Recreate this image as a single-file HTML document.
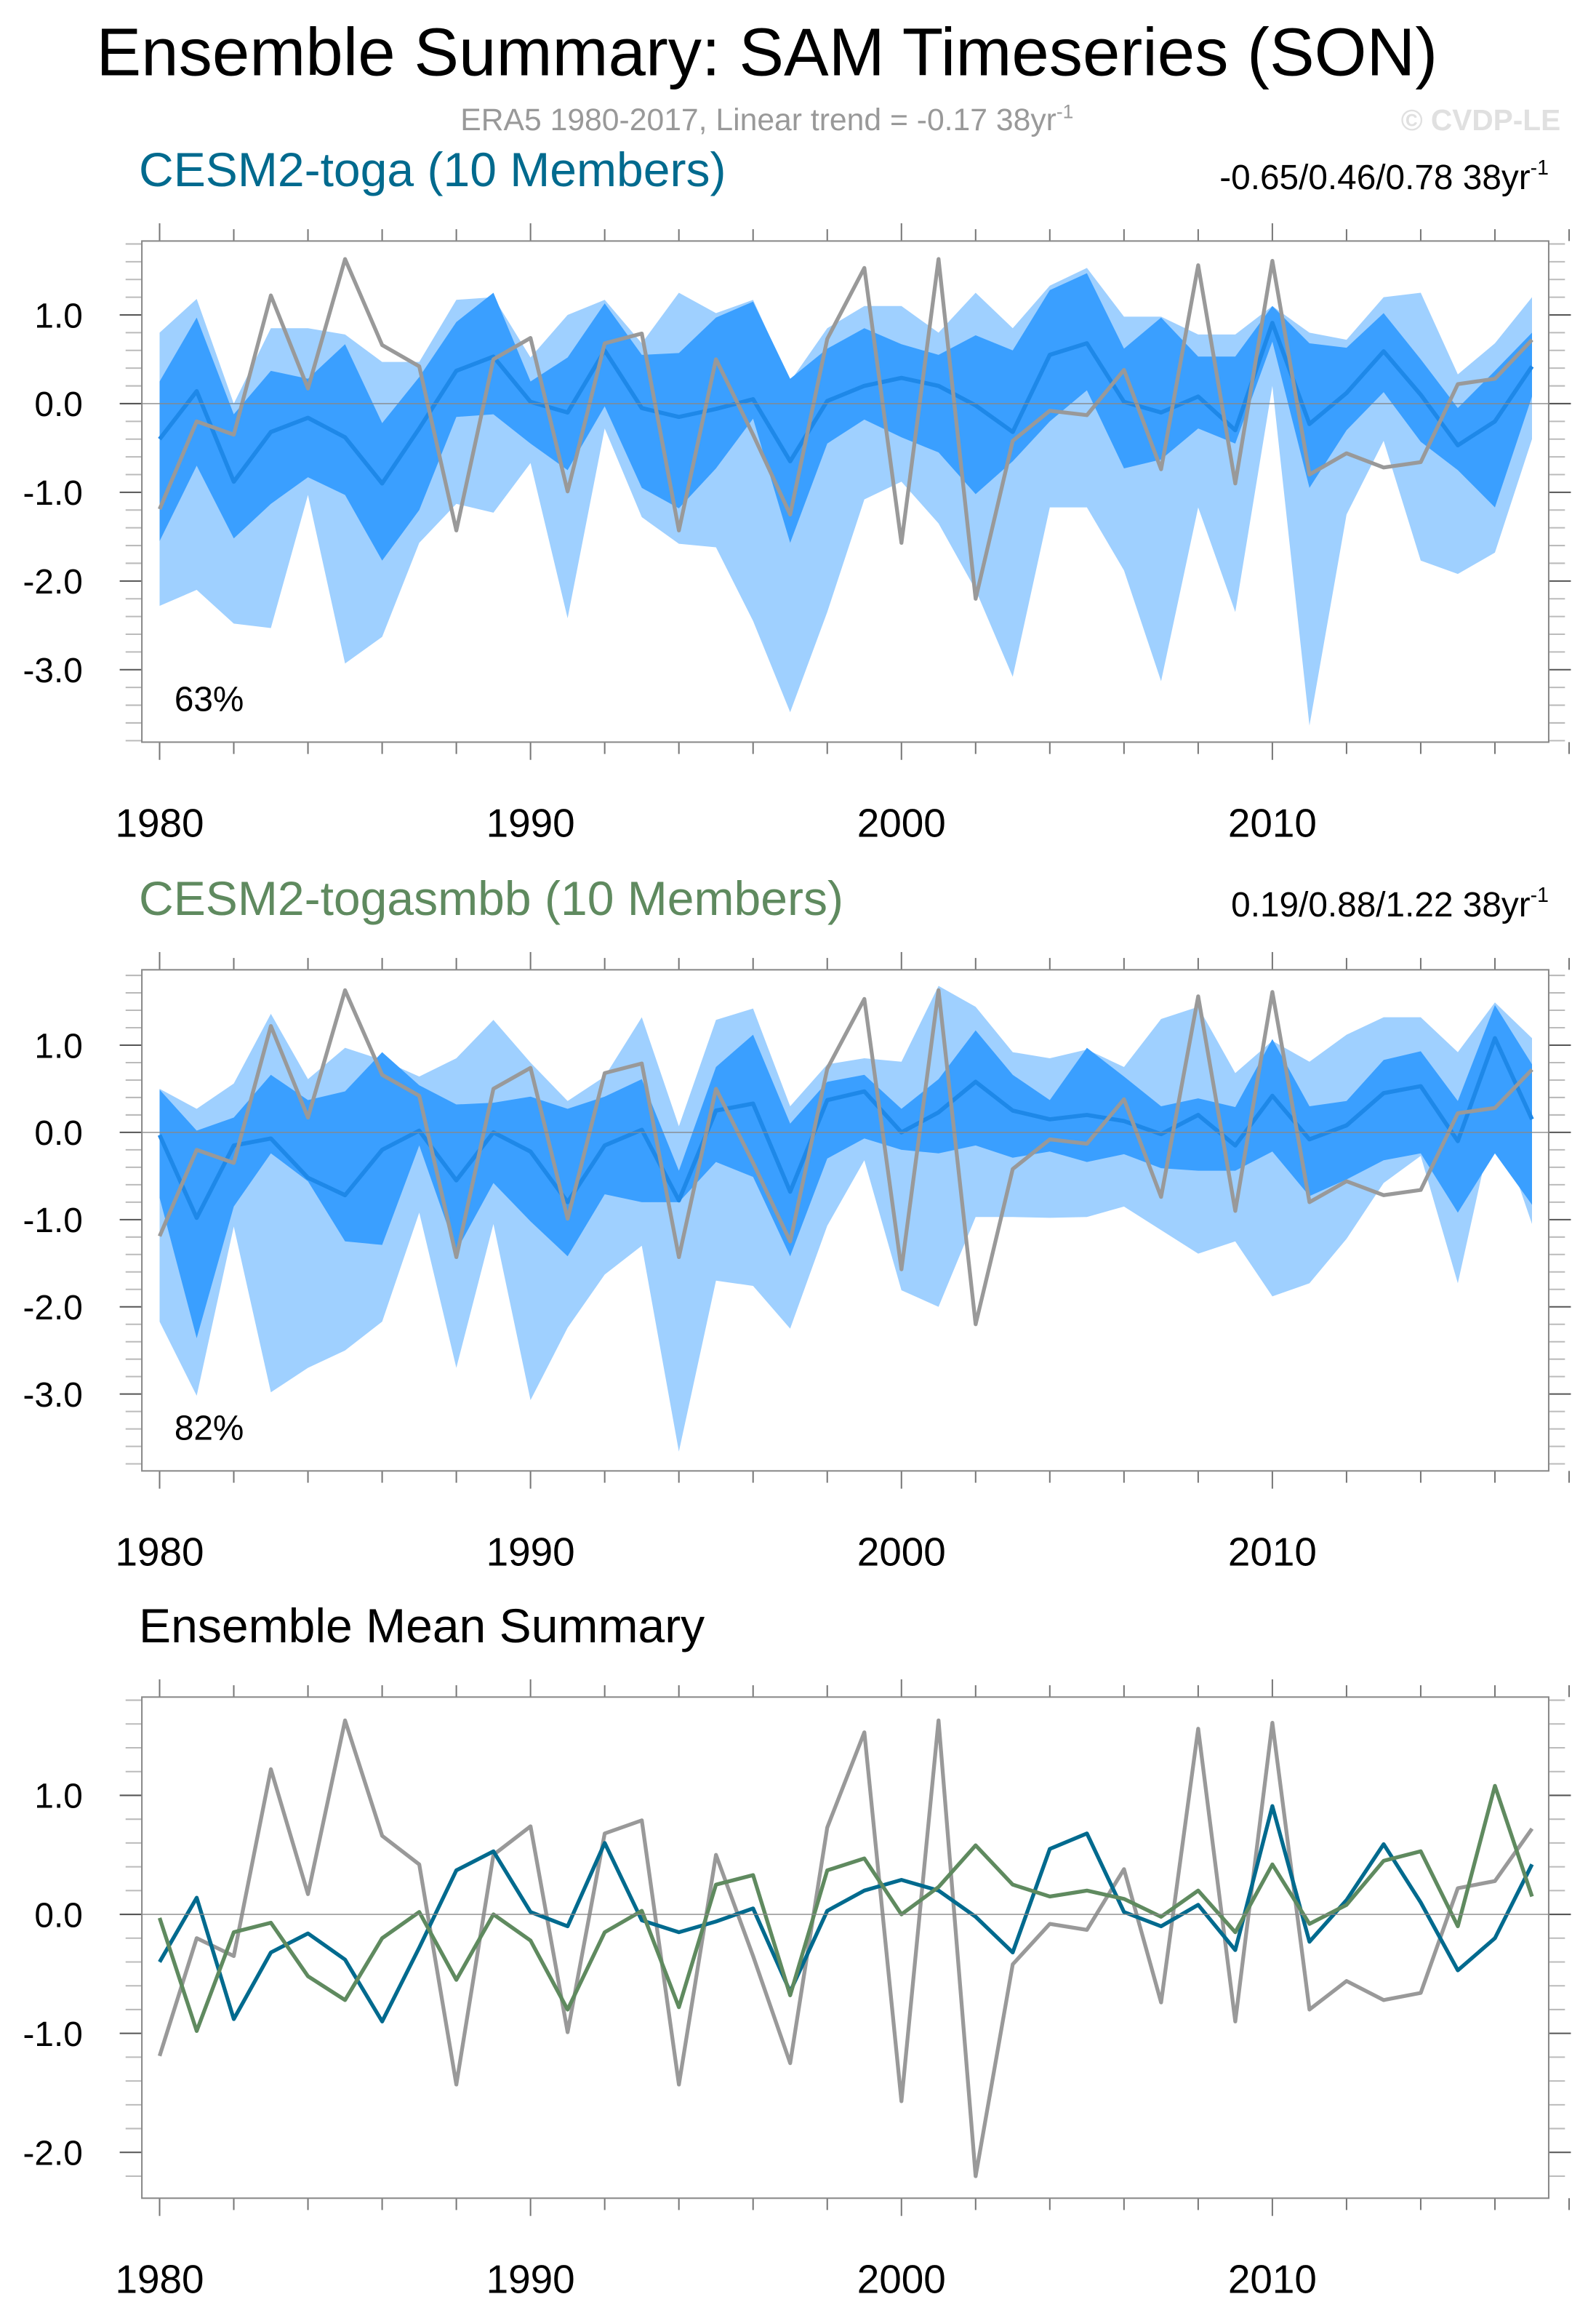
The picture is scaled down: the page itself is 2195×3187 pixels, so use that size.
<!DOCTYPE html>
<html><head><meta charset="utf-8"><style>
html,body{margin:0;padding:0;background:#fff}
svg{display:block}
text{font-family:"Liberation Sans",sans-serif}
</style></head><body>
<svg id="fig" width="2195" height="3187" viewBox="0 0 1080 1568" xmlns="http://www.w3.org/2000/svg">
<rect width="1080" height="1568" fill="#fff"/>
<text x="519" y="51" font-size="45.5" text-anchor="middle">Ensemble Summary: SAM Timeseries (SON)</text>
<text x="519" y="88" font-size="21" fill="#999" text-anchor="middle">ERA5 1980-2017, Linear trend = -0.17 38yr<tspan dy="-8" font-size="13">-1</tspan></text>
<text x="1056" y="88" font-size="20" font-weight="bold" fill="#e0e0e0" text-anchor="end">© CVDP-LE</text>
<text x="94" y="126" font-size="32.5" fill="#006a8e">CESM2-toga (10 Members)</text>
<text x="1048" y="128" font-size="23.5" text-anchor="end">-0.65/0.46/0.78 38yr<tspan dy="-10" font-size="14">-1</tspan></text>
<text x="94" y="619" font-size="32.5" fill="#5f8a5f">CESM2-togasmbb (10 Members)</text>
<text x="1048" y="620" font-size="23.5" text-anchor="end">0.19/0.88/1.22 38yr<tspan dy="-10" font-size="14">-1</tspan></text>
<text x="94" y="1111" font-size="32.5">Ensemble Mean Summary</text>
<g id="g1"></g><g id="g2"></g><g id="g3"></g>
</svg>
<script>
const years = [1980,1981,1982,1983,1984,1985,1986,1987,1988,1989,1990,1991,1992,1993,1994,1995,1996,1997,1998,1999,2000,2001,2002,2003,2004,2005,2006,2007,2008,2009,2010,2011,2012,2013,2014,2015,2016,2017];
const era5 = [-1.19,-0.2,-0.35,1.22,0.17,1.63,0.66,0.42,-1.43,0.5,0.74,-0.99,0.68,0.79,-1.43,0.5,-0.35,-1.25,0.73,1.53,-1.57,1.63,-2.2,-0.42,-0.08,-0.13,0.38,-0.74,1.56,-0.9,1.61,-0.8,-0.56,-0.72,-0.66,0.22,0.28,0.72];
const togaMean = [-0.4,0.14,-0.88,-0.32,-0.16,-0.38,-0.9,-0.28,0.37,0.53,0.02,-0.1,0.6,-0.05,-0.15,-0.06,0.05,-0.65,0.03,0.2,0.29,0.2,-0.02,-0.32,0.55,0.68,0.02,-0.1,0.08,-0.3,0.91,-0.23,0.12,0.59,0.1,-0.47,-0.2,0.42];
const togaMax = [0.8,1.18,0,0.85,0.85,0.78,0.47,0.47,1.17,1.2,0.52,1.0,1.17,0.68,1.25,1.02,1.17,0.25,0.85,1.1,1.1,0.8,1.25,0.85,1.33,1.53,0.98,0.98,0.78,0.78,1.1,0.8,0.72,1.2,1.25,0.33,0.68,1.2];
const togaMin = [-2.28,-2.1,-2.48,-2.53,-1.03,-2.93,-2.63,-1.57,-1.13,-1.23,-0.67,-2.42,-0.28,-1.28,-1.58,-1.62,-2.45,-3.48,-2.35,-1.08,-0.88,-1.35,-2.1,-3.08,-1.17,-1.17,-1.88,-3.13,-1.17,-2.35,0.2,-3.63,-1.25,-0.42,-1.77,-1.92,-1.68,-0.4];
const togaHi = [0.25,0.97,-0.12,0.37,0.28,0.67,-0.22,0.3,0.92,1.25,0.25,0.52,1.13,0.55,0.57,0.97,1.15,0.28,0.62,0.85,0.67,0.55,0.77,0.6,1.28,1.47,0.62,0.97,0.53,0.53,1.1,0.68,0.63,1.02,0.5,-0.05,0.37,0.8];
const togaLo = [-1.55,-0.7,-1.52,-1.13,-0.83,-1.03,-1.77,-1.2,-0.15,-0.12,-0.45,-0.75,-0.03,-0.95,-1.18,-0.73,-0.17,-1.57,-0.45,-0.18,-0.38,-0.55,-1.02,-0.65,-0.2,0.15,-0.73,-0.63,-0.28,-0.45,0.7,-0.95,-0.3,0.13,-0.43,-0.75,-1.17,0.08];
const smbbMean = [-0.03,-0.98,-0.15,-0.07,-0.52,-0.72,-0.2,0.02,-0.55,0.0,-0.22,-0.8,-0.15,0.03,-0.78,0.25,0.33,-0.68,0.37,0.47,0.0,0.23,0.58,0.25,0.15,0.2,0.13,-0.02,0.2,-0.15,0.42,-0.08,0.08,0.45,0.53,-0.1,1.08,0.15];
const smbbMax = [0.5,0.27,0.56,1.36,0.61,0.97,0.83,0.64,0.85,1.29,0.8,0.36,0.64,1.32,0.07,1.29,1.42,0.3,0.78,0.85,0.81,1.68,1.44,0.92,0.85,0.95,0.75,1.3,1.44,0.68,1.05,0.81,1.12,1.32,1.32,0.92,1.49,1.08];
const smbbMin = [-2.17,-3.02,-1.08,-2.98,-2.7,-2.5,-2.17,-0.92,-2.7,-1.05,-3.07,-2.24,-1.63,-1.3,-3.66,-1.7,-1.76,-2.25,-1.07,-0.32,-1.81,-2.0,-0.97,-0.97,-0.98,-0.97,-0.85,-1.12,-1.39,-1.25,-1.88,-1.73,-1.22,-0.58,-0.27,-1.73,0.19,-1.05];
const smbbHi = [0.49,0.02,0.17,0.66,0.37,0.47,0.92,0.54,0.32,0.34,0.41,0.27,0.41,0.61,-0.44,0.75,1.12,0.1,0.58,0.66,0.27,0.61,1.17,0.66,0.37,0.97,0.64,0.3,0.39,0.29,1.07,0.3,0.36,0.83,0.93,0.36,1.46,0.78];
const smbbLo = [-0.75,-2.36,-0.85,-0.24,-0.56,-1.25,-1.29,-0.15,-1.36,-0.58,-1.02,-1.42,-0.71,-0.8,-0.8,-0.34,-0.51,-1.42,-0.3,-0.07,-0.2,-0.24,-0.15,-0.29,-0.22,-0.34,-0.25,-0.41,-0.44,-0.44,-0.22,-0.73,-0.54,-0.32,-0.24,-0.92,-0.24,-0.83];
const pctLabels = ["63%","82%"];
const yTicks12 = [1.0,0.0,-1.0,-2.0,-3.0];
const yTicks3 = [1.0,0.0,-1.0,-2.0];
const xTicks = [1980,1990,2000,2010];

const NS="http://www.w3.org/2000/svg";
function mk(parent,tag,attrs){const e=document.createElementNS(NS,tag);for(const k in attrs)e.setAttribute(k,attrs[k]);parent.appendChild(e);return e;}
const L=96,R=1048;
const xs=y=>108+(y-1980)*(861-108)/30;

function panel(g,top,bot,zeroY,ppu,minV,maxV,ticks){
  const ys=v=>zeroY-v*ppu;
  for(let yr=1980;yr<=2018;yr+=2){
    const major=(yr%10===0);const x=xs(yr);const len=major?12:8;
    const t1=mk(g,'line',{x1:x,x2:x,y1:top,y2:top-len,stroke:'#777','stroke-width':1});
    
    const t2=mk(g,'line',{x1:x,x2:x,y1:bot,y2:bot+len,stroke:'#777','stroke-width':1});
    
  }
  for(let v=Math.ceil(minV*5)/5;v<=maxV+1e-6;v+=0.2){
    const y=ys(v);if(y<top-0.5||y>bot+0.5)continue;
    const major=Math.abs(v-Math.round(v))<1e-6;const len=major?15:11;
    for(const [x0,x1] of [[L,L-len],[R,R+len]]){
      const t=mk(g,'line',{x1:x0,x2:x1,y1:y,y2:y,stroke:major?'#555':'#bbb','stroke-width':1});
      
    }
  }
  for(const v of ticks){
    const t=mk(g,'text',{x:56,y:ys(v)+8.5,'font-size':23.5,'text-anchor':'end'});t.textContent=v.toFixed(1);
    
  }
  for(const yr of xTicks){
    const t=mk(g,'text',{x:xs(yr),y:bot+64,'font-size':27,'text-anchor':'middle'});t.textContent=yr;
    
  }
  return ys;
}
function band(g,hi,lo,ys,fill,name){
  let d='';years.forEach((yr,i)=>{d+=(i?'L':'M')+xs(yr)+' '+ys(hi[i]);});
  for(let i=years.length-1;i>=0;i--)d+='L'+xs(years[i])+' '+ys(lo[i]);
  const p=mk(g,'path',{d:d+'Z',fill:fill});
  
}
function line(g,vals,ys,color,w,name){
  const pts=years.map((yr,i)=>xs(yr)+','+ys(vals[i])).join(' ');
  const p=mk(g,'polyline',{points:pts,fill:'none',stroke:color,'stroke-width':w,'stroke-linejoin':'round'});
  
}
function frame(g,top,bot,zeroY){
  const z=mk(g,'line',{x1:L,x2:R,y1:zeroY,y2:zeroY,stroke:'#888','stroke-width':0.7});
  
  const r=mk(g,'rect',{x:L,y:top,width:R-L,height:bot-top,fill:'none',stroke:'#888','stroke-width':1});
  
}

const g1=document.getElementById('g1');

let ys=panel(g1,163,502,273,60,-3.8,1.8,yTicks12);
band(g1,togaMax,togaMin,ys,'#9fd0ff','toga-minmax-band');
band(g1,togaHi,togaLo,ys,'#3a9fff','toga-spread-band');
line(g1,togaMean,ys,'#1e88e8',2.8,'toga-ensemble-mean');
line(g1,era5,ys,'#999',2.6,'era5-line');
frame(g1,163,502,273);
let t=mk(g1,'text',{x:118,y:481,'font-size':23.5});t.textContent=pctLabels[0];


const g2=document.getElementById('g2');

ys=panel(g2,656,995,766,59,-3.8,1.8,yTicks12);
band(g2,smbbMax,smbbMin,ys,'#9fd0ff','smbb-minmax-band');
band(g2,smbbHi,smbbLo,ys,'#3a9fff','smbb-spread-band');
line(g2,smbbMean,ys,'#1e88e8',2.8,'smbb-ensemble-mean');
line(g2,era5,ys,'#999',2.6,'era5-line');
frame(g2,656,995,766);
t=mk(g2,'text',{x:118,y:974,'font-size':23.5});t.textContent=pctLabels[1];


const g3=document.getElementById('g3');

ys=panel(g3,1148,1487,1295,80.5,-2.4,1.8,yTicks3);
line(g3,era5,ys,'#999',2.6,'era5-line');
line(g3,togaMean,ys,'#006a8e',2.6,'toga-mean-line');
line(g3,smbbMean,ys,'#5f8a5f',2.6,'smbb-mean-line');
frame(g3,1148,1487,1295);
</script>
</body></html>
